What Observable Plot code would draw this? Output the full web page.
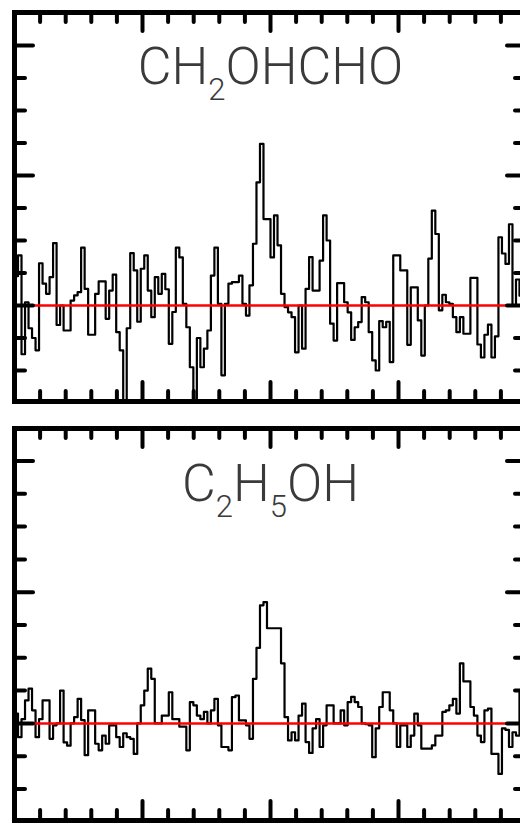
<!DOCTYPE html>
<html><head><meta charset="utf-8">
<script src="https://cdn.jsdelivr.net/npm/d3@7"></script>
<script src="https://cdn.jsdelivr.net/npm/@observablehq/plot@0.6"></script>
<style>
html,body{margin:0;padding:0;background:#fff;overflow:hidden;width:520px;height:823px}
#chart{width:540px}
#chart svg{display:block;max-width:none !important;width:540px}
</style></head><body><div id="chart"></div>
<script>
// velocity axis (km/s), channel grid spans the full frame
const velocityStart = -10, velocityEnd = 10;
const xMajorTicks = [-5, 0, 5];
const xMinorTicks = [-9,-8,-7,-6,-4,-3,-2,-1,1,2,3,4,6,7,8,9];
const yMajorTicks = [0, 4, 8];
const yMinorTicks = [-2,-1,1,2,3,5,6,7];

const topTitle = [["CH", false], ["2", true], ["OHCHO", false]];
const bottomTitle = [["C", false], ["2", true], ["H", false], ["5", true], ["OH", false]];

// antenna temperature per channel (arbitrary units = minor tick steps)
const topSpectrum = [0.9,1.54,-1.5,0.1,-0.7,-1.0,-1.38,1.3,0.67,0.36,0.87,1.92,-0.6,0.0,-0.77,-0.77,0.15,0.31,0.41,1.78,
0.51,-0.9,-0.9,0.36,0.74,0.74,-0.41,0.46,0.95,-0.82,-1.38,-3.2,-0.7,1.61,1.08,-0.5,1.13,1.54,0.46,-0.36,
0.87,0.36,0.97,0.5,-1.18,-0.2,1.78,1.48,0.05,-0.67,-1.9,-3.2,-1.0,-1.9,-1.33,-0.77,0.92,1.78,0.05,-2.15,
0.05,0.67,0.72,0.72,0.92,0.05,-0.31,0.62,1.9,3.79,4.97,2.66,2.66,1.48,2.77,1.85,0.36,-0.05,-0.21,-0.36,
-1.44,0.0,-1.33,0.51,1.49,0.46,0.46,1.38,2.77,2.0,-0.56,-1.08,0.69,0.69,0.1,-0.21,-1.06,-0.67,-0.51,0.26,
0.1,-0.82,-1.69,-2.0,-0.48,-0.67,-0.5,-1.74,1.54,1.54,1.08,1.08,-1.21,0.56,0.56,-0.46,-1.54,0.0,1.44,2.92,
2.2,-0.15,0.33,0.1,0.05,-0.36,-0.82,-0.36,-0.87,-0.87,0.85,0.85,-1.2,-1.6,-0.9,-0.59,-1.6,-0.95,2.1,1.6,
1.28,2.5,0.0,0.8,0.3,0.1];

const bottomSpectrum = [0.3,-0.42,0.13,0.7,1.06,0.4,-0.42,0.13,0.7,0.7,-0.47,-0.06,0.0,1.0,-0.58,-0.68,0.0,0.19,0.75,0.1,
-0.97,0.4,0.4,-0.62,-0.82,-0.37,-0.62,-0.06,-0.06,-0.42,-0.72,-0.3,-0.42,-0.47,-0.93,0.0,0.55,1.0,1.67,1.36,
0.0,0.0,0.24,0.24,0.95,0.13,0.13,-0.1,-0.1,-0.82,0.65,0.55,0.24,0.13,0.35,0.0,0.4,0.75,-0.06,-0.72,
-0.72,-0.82,0.8,0.85,0.09,0.09,-0.06,-0.47,1.36,2.3,3.6,3.7,2.9,2.9,2.9,2.9,1.83,0.19,-0.52,-0.27,
-0.52,0.24,0.6,-0.57,-0.9,-0.15,0.13,-0.72,-0.06,0.55,0.55,0.0,0.0,0.4,-0.06,0.65,0.81,0.65,0.5,0.0,
-0.02,-0.06,-1.03,-0.15,0.5,0.95,0.95,0.4,0.0,-0.72,-0.06,-0.06,-0.72,-0.37,0.3,-0.06,-0.77,-0.77,-0.77,-0.67,
-0.37,-0.37,0.35,0.4,0.55,0.75,0.3,1.83,1.28,1.28,0.5,0.24,-0.37,-0.57,0.4,0.45,-0.93,-0.93,-1.54,-0.15,
-0.2,-0.72,-0.27,-0.37,1.0,1.2];

function panel({values, titleParts, titleY, height, marginTop, marginBottom, yDomain}) {
  const W = 540, ml = 14, mr = 14;
  const innerH = height - marginTop - marginBottom;
  const innerW = W - ml - mr;
  const n = values.length;
  const dv = (velocityEnd - velocityStart) / n;
  const data = values.map((t, i) => ({v: velocityStart + i * dv, t}));
  data.push({v: velocityEnd, t: values[n - 1]});
  const titleText = titleParts.map(p => p[0]).join("");
  const tk = {strokeWidth: 4, strokeLinecap: "round", stroke: "black"};
  const plot = Plot.plot({
    width: W, height, marginLeft: ml, marginRight: mr, marginTop, marginBottom,
    x: {domain: [velocityStart, velocityEnd], axis: null},
    y: {domain: yDomain, axis: null},
    style: {background: "white", maxWidth: "none"},
    marks: [
      Plot.line(data, {x: "v", y: "t", curve: "step-after", stroke: "black", strokeWidth: 2.2, clip: true}),
      Plot.ruleY([0], {stroke: "#ff0000", strokeWidth: 2.5}),
      Plot.tickX(xMinorTicks, {x: d => d, insetTop: innerH - 10, ...tk}),
      Plot.tickX(xMinorTicks, {x: d => d, insetBottom: innerH - 10, ...tk}),
      Plot.tickX(xMajorTicks, {x: d => d, insetTop: innerH - 19, ...tk}),
      Plot.tickX(xMajorTicks, {x: d => d, insetBottom: innerH - 19, ...tk}),
      Plot.tickY(yMinorTicks, {y: d => d, insetRight: innerW - 11, ...tk}),
      Plot.tickY(yMinorTicks, {y: d => d, insetLeft: innerW - 11, ...tk}),
      Plot.tickY(yMajorTicks, {y: d => d, insetRight: innerW - 19, ...tk}),
      Plot.tickY(yMajorTicks, {y: d => d, insetLeft: innerW - 19, ...tk}),
      Plot.frame({stroke: "black", strokeWidth: 5}),
      Plot.text([titleText], {x: 0, y: titleY, text: d => d, lineAnchor: "bottom", textAnchor: "middle",
        fontSize: 52, fontFamily: "Roboto, 'Liberation Sans', sans-serif", fontWeight: 300, fill: "#3a3a3a"})
    ]
  });
  d3.select(plot).selectAll("text").filter(function() { return this.textContent === titleText; })
    .each(function() {
      const el = d3.select(this).text("");
      let low = false;
      for (const [s, sub] of titleParts) {
        const ts = el.append("tspan").text(s);
        if (sub && !low) { ts.attr("dy", 16).attr("font-size", 31); low = true; }
        else if (!sub && low) { ts.attr("dy", -16); low = false; }
        else if (sub) ts.attr("font-size", 31);
      }
    });
  return plot;
}

const root = document.getElementById("chart");
root.append(panel({values: topSpectrum, titleParts: topTitle, titleY: 6.83, height: 410, marginTop: 12, marginBottom: 9, yDomain: [-2.954, 9.015]}));
root.append(panel({values: bottomSpectrum, titleParts: bottomTitle, titleY: 6.77, height: 413, marginTop: 18, marginBottom: 3, yDomain: [-2.96, 8.99]}));
</script></body></html>
